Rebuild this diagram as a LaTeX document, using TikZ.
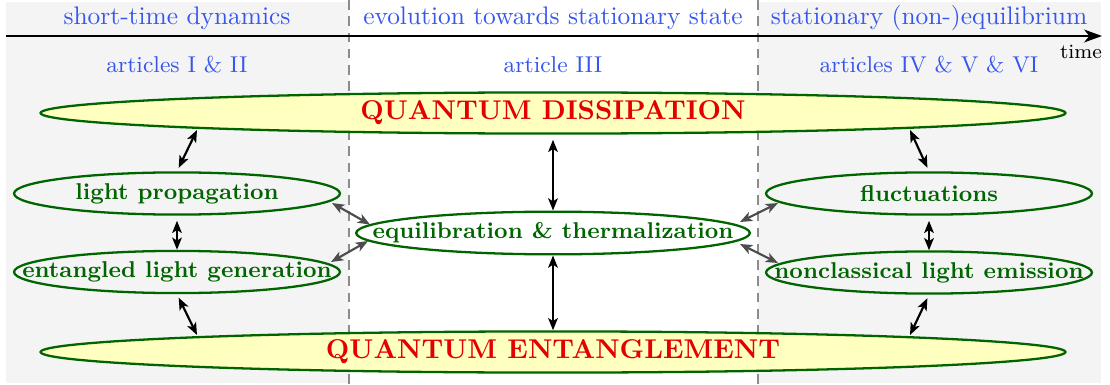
\documentclass[tikz,border=0pt]{standalone}
\usepackage{tikz}
\usetikzlibrary{arrows.meta,shapes.geometric,calc}
\definecolor{headblue}{HTML}{3656EE}
\definecolor{phasebg}{HTML}{F4F4F4}
\definecolor{topicgreen}{HTML}{006400}
\definecolor{bigfill}{HTML}{FFFFBF}
\definecolor{linkgrey}{HTML}{4D4D4D}
\definecolor{sepgrey}{HTML}{8C8C8C}
\definecolor{bigred}{HTML}{E20000}

\tikzset{
  bigtopic/.style={ellipse,draw=topicgreen,line width=0.9pt,fill=bigfill,
                   minimum width=403.5pt,minimum height=16.2pt,inner sep=0pt,
                   text=bigred,font=\fontsize{10.7}{12}\selectfont\bfseries},
  topic/.style={ellipse,draw=topicgreen,line width=0.9pt,
                minimum width=128.3pt,minimum height=16.6pt,inner sep=0pt},
  topictext/.style={text=topicgreen,font=\small\bfseries},
  phase/.style={text=headblue,font=\normalsize},
  papers/.style={text=headblue,font=\small},
  link/.style={line width=0.85pt,{Stealth[length=4.8pt,width=3.8pt,inset=1.2pt]}-{Stealth[length=4.8pt,width=3.8pt,inset=1.2pt]}},
  crosslink/.style={link,draw=linkgrey}
}

\begin{document}
\begin{tikzpicture}[x=0.3937pt,y=-0.3937pt]
  \useasboundingbox (0,0) rectangle (1110,385);
  % shaded time regions
  \fill[phasebg] (6,2) rectangle (349,383);
  \fill[phasebg] (758,2) rectangle (1101,383);
  \draw[sepgrey,line width=0.9pt,dash pattern=on 3.8pt off 2.6pt] (349,0) -- (349,385);
  \draw[sepgrey,line width=0.9pt,dash pattern=on 3.8pt off 2.6pt] (758,0) -- (758,385);
  % time axis
  \coordinate (t0) at (6,36);
  \coordinate (t1) at (1102,36);
  \draw[line width=1pt,-{Stealth[length=7pt,width=5pt,inset=2pt]}] (t0) -- (t1);
  \node[font=\footnotesize,inner sep=0pt] (time) at (1081,52) {time};

  \node[phase] (ph1) at (177,18.5) {short-time dynamics};
  \node[phase] (ph2) at (553,18.5) {evolution towards stationary state};
  \node[phase] (ph3) at (929,18.5) {stationary (non-)equilibrium};
  \node[papers] (ar1) at (177,65) {articles I \& II};
  \node[papers] (ar2) at (553,65) {article III};
  \node[papers] (ar3) at (929,65) {articles IV \& V \& VI};

  % topics
  \node[bigtopic] (qd) at (553,113) {QUANTUM DISSIPATION};
  \node[bigtopic] (qe) at (553,352) {QUANTUM ENTANGLEMENT};
  \node[topic,label={[topictext]center:light propagation}] (lp) at (177,193.5) {};
  \node[topic,label={[topictext]center:entangled light generation}] (elg) at (177,272) {};
  \node[topic,minimum width=155pt,minimum height=16.8pt,
        label={[topictext]center:equilibration \& thermalization}] (eq) at (553,233) {};
  \node[topic,label={[topictext]center:fluctuations}] (fl) at (929,193.5) {};
  \node[topic,label={[topictext]center:nonclassical light emission}] (nle) at (929,272.5) {};

  % end points on the flat ellipses
  \coordinate (qdL) at ($(qd.center)+(-356,17)$);
  \coordinate (qdR) at ($(qd.center)+(357,17)$);
  \coordinate (qeL) at ($(qe.center)+(-356,-17)$);
  \coordinate (qeR) at ($(qe.center)+(357,-17)$);
  \coordinate (lpE) at ($(lp.center)+(155,9.5)$);
  \coordinate (elgE) at ($(elg.center)+(154,-10)$);
  \coordinate (flW) at ($(fl.center)+(-151,9.5)$);
  \coordinate (nleW) at ($(nle.center)+(-151,-9.5)$);
  \coordinate (eqNW) at ($(eq.center)+(-183,-8.5)$);
  \coordinate (eqSW) at ($(eq.center)+(-185,8)$);
  \coordinate (eqNE) at ($(eq.center)+(187,-11)$);
  \coordinate (eqSE) at ($(eq.center)+(187,11)$);

  % links
  \draw[link,shorten <=1.5pt] (lp.north) -- (qdL);
  \draw[link,shorten <=2pt] (lp.south) -- (elg.north);
  \draw[link,shorten <=1.5pt] (elg.south) -- (qeL);
  \draw[link,shorten <=1.5pt] (fl.north) -- (qdR);
  \draw[link,shorten <=2pt] (fl.south) -- (nle.north);
  \draw[link,shorten <=1.5pt] (nle.south) -- (qeR);
  \draw[link,shorten <=2pt] (qd.south) -- (eq.north);
  \draw[link] (eq.south) -- (qe.north);
  \draw[crosslink] (lpE) -- (eqNW);
  \draw[crosslink] (elgE) -- (eqSW);
  \draw[crosslink] (eqNE) -- (flW);
  \draw[crosslink] (eqSE) -- (nleW);
\end{tikzpicture}
\end{document}
